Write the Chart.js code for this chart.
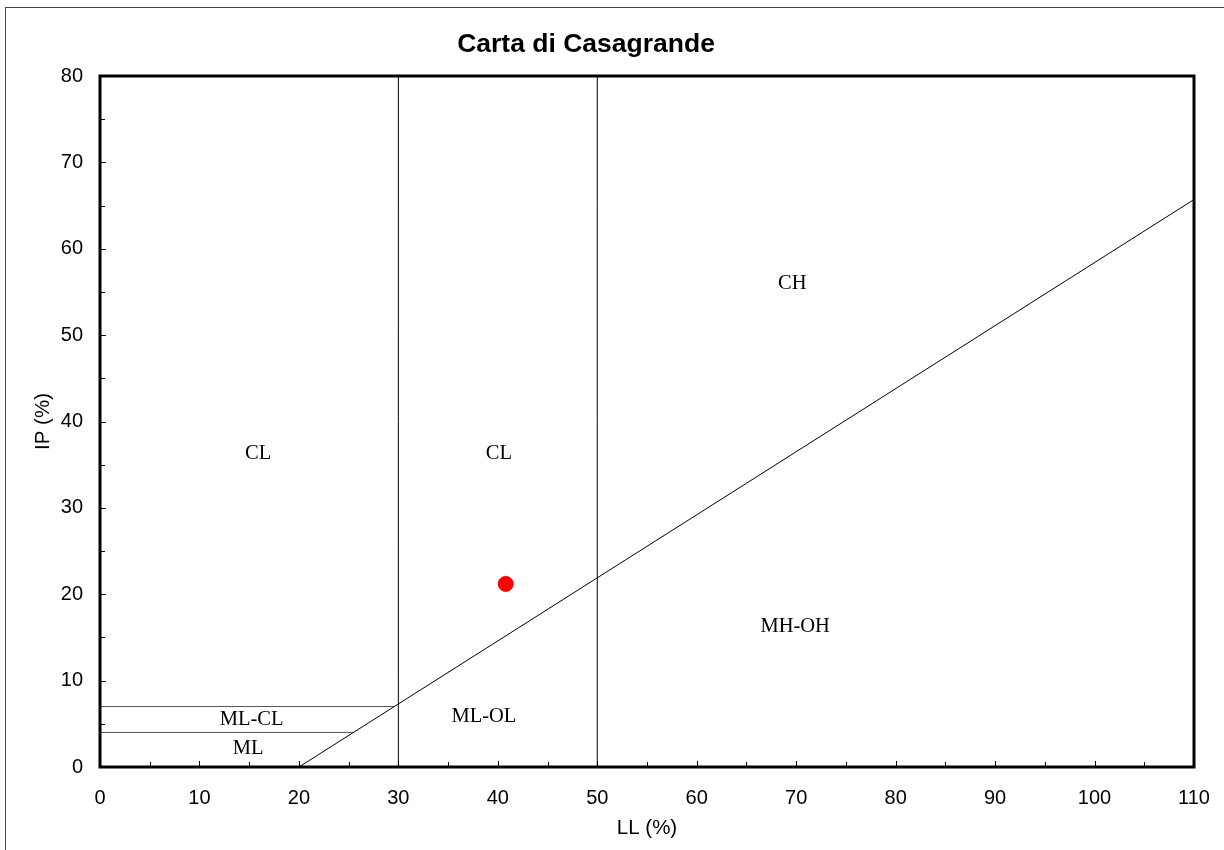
<!DOCTYPE html>
<html><head><meta charset="utf-8">
<script src="https://cdn.jsdelivr.net/npm/chart.js@4.4.1/dist/chart.umd.min.js"></script>
<style>html,body{margin:0;padding:0;background:#fff;overflow:hidden}#wrap{width:1224px;height:850px;position:relative}</style>
</head><body><div id="wrap"><canvas id="c" width="1224" height="850"></canvas></div>
<script>
const chartTitle = "Carta di Casagrande";
const xTitle = "LL (%)";
const yTitle = "IP (%)";
const xTickValues = [0,10,20,30,40,50,60,70,80,90,100,110];
const yTickValues = [0,10,20,30,40,50,60,70,80];
const xMinorTicks = [5,15,25,35,45,55,65,75,85,95,105];
const yMinorTicks = [5,15,25,35,45,55,65,75];

const sampleLL = [40.8];
const sampleIP = [21.2];

const aLineLL = [20, 110];
const aLineIP = [0, 65.7];
const v30LL = [30, 30];
const v30IP = [0, 80];
const v50LL = [50, 50];
const v50IP = [0, 80];
const h7LL = [0, 29.6];
const h7IP = [7, 7];
const h4LL = [0, 25.5];
const h4IP = [4, 4];

const zoneNames = ["CL", "CL", "CH", "MH-OH", "ML-OL", "ML-CL", "ML"];
const zoneLL = [15.9, 40.1, 69.6, 69.9, 38.6, 15.25, 14.9];
const zoneIP = [36.3, 36.3, 56.0, 16.3, 5.8, 5.45, 2.1];

const pts = (xs, ys) => xs.map((x, i) => ({x: x, y: ys[i]}));
const lineDs = (xs, ys, color) => ({
  data: pts(xs, ys), showLine: true, borderColor: color, borderWidth: 1,
  pointRadius: 0, pointHoverRadius: 0, fill: false, tension: 0
});

const SANS = "'Liberation Sans', Arial, Helvetica, sans-serif";
const SERIF = "'Liberation Serif', 'Times New Roman', serif";

const decor = {
  id: 'decor',
  beforeDraw(chart) {
    const ctx = chart.ctx;
    ctx.save();
    ctx.fillStyle = '#fff';
    ctx.fillRect(0, 0, chart.width, chart.height);
    ctx.strokeStyle = '#444';
    ctx.lineWidth = 1;
    ctx.strokeRect(5.5, 7.5, 1400, 1000);
    ctx.restore();
  },
  afterDatasetsDraw(chart) {
    const ctx = chart.ctx;
    const a = chart.chartArea;
    const xs = chart.scales.x, ys = chart.scales.y;
    ctx.save();
    // zone labels
    ctx.fillStyle = '#000';
    ctx.font = "20.5px " + SERIF;
    ctx.textAlign = 'center';
    ctx.textBaseline = 'middle';
    zoneNames.forEach((n, i) => {
      ctx.fillText(n, xs.getPixelForValue(zoneLL[i]), ys.getPixelForValue(zoneIP[i]));
    });
    // ticks
    ctx.strokeStyle = '#000';
    ctx.lineWidth = 1;
    ctx.beginPath();
    xTickValues.forEach(v => { const p = Math.round(xs.getPixelForValue(v)) + 0.5; ctx.moveTo(p, a.bottom); ctx.lineTo(p, a.bottom - 6); });
    xMinorTicks.forEach(v => { const p = Math.round(xs.getPixelForValue(v)) + 0.5; ctx.moveTo(p, a.bottom); ctx.lineTo(p, a.bottom - 5); });
    yTickValues.forEach(v => { const p = Math.round(ys.getPixelForValue(v)) + 0.5; ctx.moveTo(a.left, p); ctx.lineTo(a.left + 6, p); });
    yMinorTicks.forEach(v => { const p = Math.round(ys.getPixelForValue(v)) + 0.5; ctx.moveTo(a.left, p); ctx.lineTo(a.left + 5, p); });
    ctx.stroke();
    // frame
    ctx.lineWidth = 3;
    ctx.strokeRect(a.left, a.top, a.right - a.left, a.bottom - a.top);
    // titles
    ctx.font = "bold 26.5px " + SANS;
    ctx.fillText(chartTitle, 586, 45);
    ctx.font = "20.5px " + SANS;
    ctx.fillText(xTitle, (a.left + a.right) / 2, 828);
    ctx.translate(43, (a.top + a.bottom) / 2);
    ctx.rotate(-Math.PI / 2);
    ctx.fillText(yTitle, 0, 0);
    ctx.restore();
  }
};

new Chart(document.getElementById('c'), {
  type: 'scatter',
  data: {
    datasets: [
      { data: pts(sampleLL, sampleIP), backgroundColor: '#ff0000', borderColor: '#ff0000', pointRadius: 7.5, pointHoverRadius: 7.5, showLine: false },
      lineDs(aLineLL, aLineIP, '#000'),
      lineDs(v30LL, v30IP, '#000'),
      lineDs(v50LL, v50IP, '#000'),
      lineDs(h7LL, h7IP, '#555'),
      lineDs(h4LL, h4IP, '#555')
    ]
  },
  options: {
    responsive: false,
    animation: false,
    devicePixelRatio: 1,
    layout: { padding: { top: 76, right: 30, left: 0, bottom: 0 } },
    plugins: { legend: { display: false }, tooltip: { enabled: false }, title: { display: false } },
    scales: {
      x: {
        type: 'linear', min: 0, max: 110,
        grid: { display: false, drawTicks: false },
        border: { display: false },
        afterBuildTicks: s => { s.ticks = xTickValues.map(v => ({value: v})); },
        afterFit: s => { s.height = 83; s.paddingLeft = 0; s.paddingRight = 0; },
        ticks: { color: '#000', font: { family: SANS, size: 20 }, padding: 19, maxRotation: 0, autoSkip: false }
      },
      y: {
        type: 'linear', min: 0, max: 80,
        grid: { display: false, drawTicks: false },
        border: { display: false },
        afterBuildTicks: s => { s.ticks = yTickValues.map(v => ({value: v})); },
        afterFit: s => { s.width = 100; s.paddingTop = 0; s.paddingBottom = 0; },
        ticks: { color: '#000', font: { family: SANS, size: 20 }, padding: 17, autoSkip: false }
      }
    }
  },
  plugins: [decor]
});
</script>
</body></html>
